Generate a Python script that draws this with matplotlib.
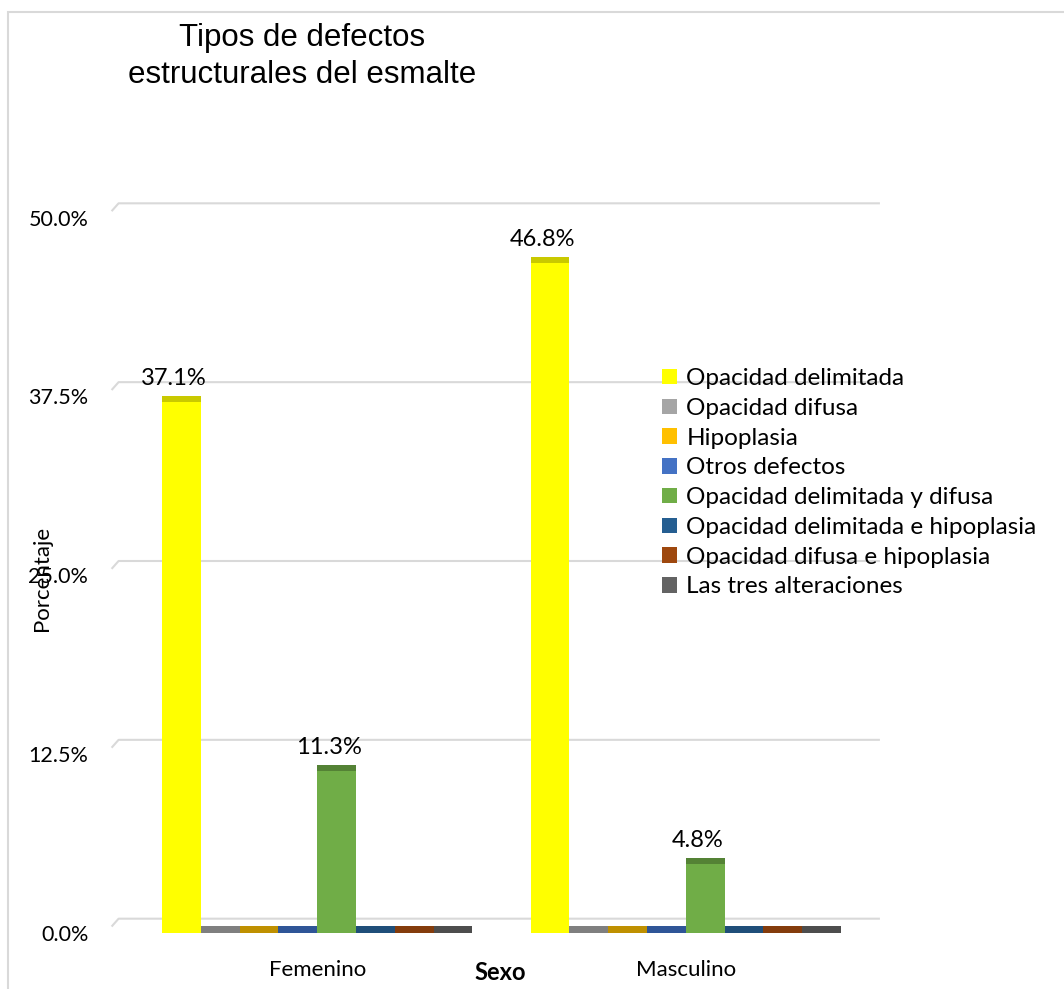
import numpy as np
import matplotlib
matplotlib.use('Agg')
import matplotlib.pyplot as plt
from matplotlib.patches import Patch, Rectangle

# Data (percent)
groups = ['Femenino', 'Masculino']
series = ['Opacidad delimitada', 'Opacidad difusa', 'Hipoplasia', 'Otros defectos',
          'Opacidad delimitada y difusa', 'Opacidad delimitada e hipoplasia',
          'Opacidad difusa e hipoplasia', 'Las tres alteraciones']
femenino = [37.1, 0.0, 0.0, 0.0, 11.3, 0.0, 0.0, 0.0]
masculino = [46.8, 0.0, 0.0, 0.0, 4.8, 0.0, 0.0, 0.0]
yticks = [0.0, 12.5, 25.0, 37.5, 50.0]

face_colors = ['#FFFF00', '#A5A5A5', '#FFC000', '#4472C4',
               '#70AD47', '#255E91', '#9E480E', '#636363']
top_colors = ['#C9C900', '#7F7F7F', '#BF9000', '#2F5597',
              '#548235', '#1F4E79', '#843C0C', '#4D4D4D']

BAR_W = 1.0
GROUP_STEP = 9.5
DEPTH = 1.0      # back wall offset for gridlines (pct)
CAP = 0.45       # visible top face of the 3D columns (pct)

plt.rcParams['font.family'] = ['Lato', 'DejaVu Sans']

fig = plt.figure(figsize=(10.64, 9.89), dpi=100)

# outer chart border
fig.patches.append(Rectangle((8 / 1064, -0.05), 1.2, (989 - 12) / 989 + 0.05,
                             transform=fig.transFigure, fill=False,
                             edgecolor='#D9D9D9', linewidth=1.5))

ax = fig.add_axes([105 / 1064, (989 - 938) / 989, (890 - 105) / 1064, (938 - 189) / 989])
ax.set_xlim(-1.47, 18.76)
ax.set_ylim(-0.35, 52)

# gridlines on the back wall with small slanted floor segment
for t in yticks:
    ax.plot([-1.3, -1.12, 18.5], [t + DEPTH - 0.55, t + DEPTH, t + DEPTH],
            color='#D9D9D9', linewidth=1.5, zorder=0, solid_capstyle='butt')

for gi, vals in enumerate([femenino, masculino]):
    for si, v in enumerate(vals):
        x = gi * GROUP_STEP + si * BAR_W
        if v > 0:
            ax.bar(x, v, width=BAR_W, align='edge', color=face_colors[si],
                   edgecolor='none', zorder=3)
            ax.bar(x, CAP, bottom=v, width=BAR_W, align='edge', color=top_colors[si],
                   edgecolor='none', zorder=3)
            ax.text(x + BAR_W / 2 - 0.2, v + CAP + 0.5, f'{v:.1f}%', ha='center',
                    va='bottom', fontsize=17, color='#000000')
        else:
            ax.bar(x, 0.5, width=BAR_W, align='edge', color=top_colors[si],
                   edgecolor='none', zorder=2)

centers = [gi * GROUP_STEP + len(series) * BAR_W / 2 for gi in range(len(groups))]
ax.set_xticks(centers)
ax.set_xticklabels(groups, fontsize=16)
ax.set_yticks(yticks)
ax.set_yticklabels([f'{t:.1f}%' for t in yticks], fontsize=15.5)
ax.tick_params(axis='both', length=0)
ax.tick_params(axis='x', pad=16)
ax.tick_params(axis='y', pad=12)
for s in ax.spines.values():
    s.set_visible(False)

fig.text(500 / 1064, 1 - 972 / 989, 'Sexo', ha='center', va='center',
         fontsize=17, fontweight='bold')
fig.text(42 / 1064, 1 - 578 / 989, 'Porcentaje', ha='center', va='center',
         rotation=90, fontsize=16)

fig.text(302 / 1064, 1 - 38 / 989, 'Tipos de defectos', ha='center', va='center',
         fontsize=22.5, family='Liberation Sans')
fig.text(302 / 1064, 1 - 75 / 989, 'estructurales del esmalte', ha='center', va='center',
         fontsize=22.5, family='Liberation Sans')

handles = [Patch(facecolor=c, edgecolor='none') for c in face_colors]
fig.legend(handles, series, loc='upper left', bbox_to_anchor=(650 / 1064, 1 - 356 / 989),
           frameon=False, fontsize=17.5, handlelength=0.6, handleheight=0.6,
           handletextpad=0.4, labelspacing=0.36, borderpad=0)

fig.savefig('out.png', dpi=100)
